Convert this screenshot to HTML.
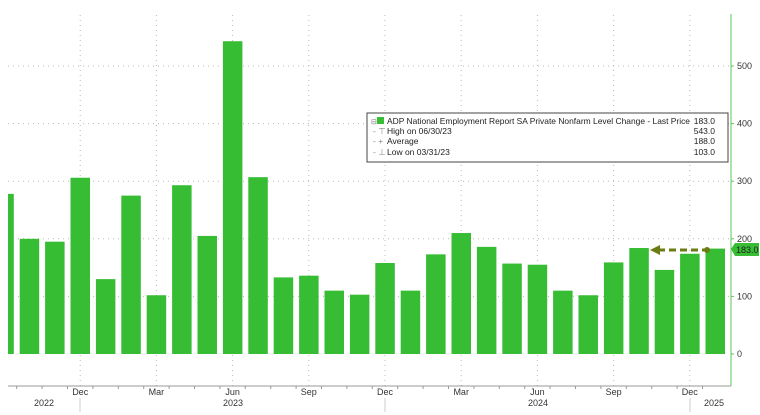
<!DOCTYPE html>
<html><head><meta charset="utf-8"><style>
html,body{margin:0;padding:0;background:#fff;width:760px;height:415px;overflow:hidden}
svg{display:block;font-family:"Liberation Sans",sans-serif}
</style></head><body>
<svg id="s" width="760" height="415" viewBox="0 0 760 415" xmlns="http://www.w3.org/2000/svg">
<rect width="760" height="415" fill="#fff"/>
<g id="grid" stroke="#b8b8b8" stroke-width="1" stroke-dasharray="1,4"></g>
<g id="bars" fill="#37bd34"></g>
<line x1="731" y1="14" x2="731" y2="386" stroke="#5cc55a" stroke-width="1"/>
<line x1="8" y1="386" x2="731" y2="386" stroke="#999" stroke-width="1"/>
<g id="yl" font-size="9" fill="#333"></g>
<g id="xl" font-size="9" fill="#333" text-anchor="middle"></g>
<rect x="367" y="113" width="361" height="49" fill="#fff" stroke="#444" stroke-width="1"/>
<rect x="377" y="117" width="7" height="7" fill="#37bd34"/>
<text x="371" y="124" font-size="7" fill="#777">⊟</text>
<g font-size="8.5" fill="#222">
<text x="387" y="124" textLength="303" lengthAdjust="spacingAndGlyphs">ADP National Employment Report SA Private Nonfarm Level Change - Last Price</text>
<text x="715" y="124" text-anchor="end">183.0</text>
<text x="387" y="134">High on 06/30/23</text><text x="715" y="134" text-anchor="end">543.0</text>
<text x="387" y="144">Average</text><text x="715" y="144" text-anchor="end">188.0</text>
<text x="387" y="155">Low on 03/31/23</text><text x="715" y="155" text-anchor="end">103.0</text>
<text x="373" y="134" fill="#888">- ⊤</text><text x="373" y="144" fill="#888">- +</text><text x="373" y="155" fill="#888">- ⊥</text>
</g>
<line x1="658" y1="250" x2="706" y2="250" stroke="#6b7d12" stroke-width="3" stroke-dasharray="7,4"/>
<polygon points="650,250 660,245 660,255" fill="#6b7d12"/>
<circle cx="707" cy="250" r="3" fill="#6b7d12"/>
<polygon points="731,249 735,243 759,243 759,256 735,256" fill="#37bd34"/>
<text x="736" y="253" font-size="9" fill="#222">183.0</text>
</svg>
<script>
const v=[278,200,195,306,130,275,102,293,205,543,307,133,136,110,103,158,110,173,210,186,157,155,110,102,159,184,146,174,183];
const ns="http://www.w3.org/2000/svg";
function el(p,t,a,txt){const e=document.createElementNS(ns,t);for(const k in a)e.setAttribute(k,a[k]);if(txt!=null)e.textContent=txt;document.getElementById(p).appendChild(e);}
const y0=354,k=0.576;
v.forEach((d,i)=>{const c=4+i*25.4;let x=c-9.7,w=19.5;if(x<8){w-=8-x;x=8;}el("bars","rect",{x:x,y:y0-d*k,width:w,height:d*k});});
[100,200,300,400,500].forEach(t=>el("grid","line",{x1:8,x2:731,y1:y0-t*k,y2:y0-t*k}));
[0,100,200,300,400,500].forEach(t=>{el("yl","text",{x:737,y:y0-t*k+3},t);el("grid","line",{x1:731,x2:734,y1:y0-t*k,y2:y0-t*k,"stroke-dasharray":"none",stroke:"#5cc55a"});});
const m=[["Dec",3],["Mar",6],["Jun",9],["Sep",12],["Dec",15],["Mar",18],["Jun",21],["Sep",24],["Dec",27]];
m.forEach(([n,i])=>{const c=4+i*25.4;el("grid","line",{x1:c,x2:c,y1:15,y2:386});el("xl","text",{x:c,y:395},n);});
for(let i=1;i<29;i++){const c=4+i*25.4-12.7;el("grid","line",{x1:c,x2:c,y1:386,y2:389,"stroke-dasharray":"none",stroke:"#999"});}
[[44,"2022"],[233,"2023"],[538,"2024"],[714,"2025"]].forEach(([x,t])=>el("xl","text",{x:x,y:406},t));
[80,385,690].forEach(x=>el("grid","line",{x1:x,x2:x,y1:398,y2:412,"stroke-dasharray":"none",stroke:"#ccc"}));
</script>
</body></html>
